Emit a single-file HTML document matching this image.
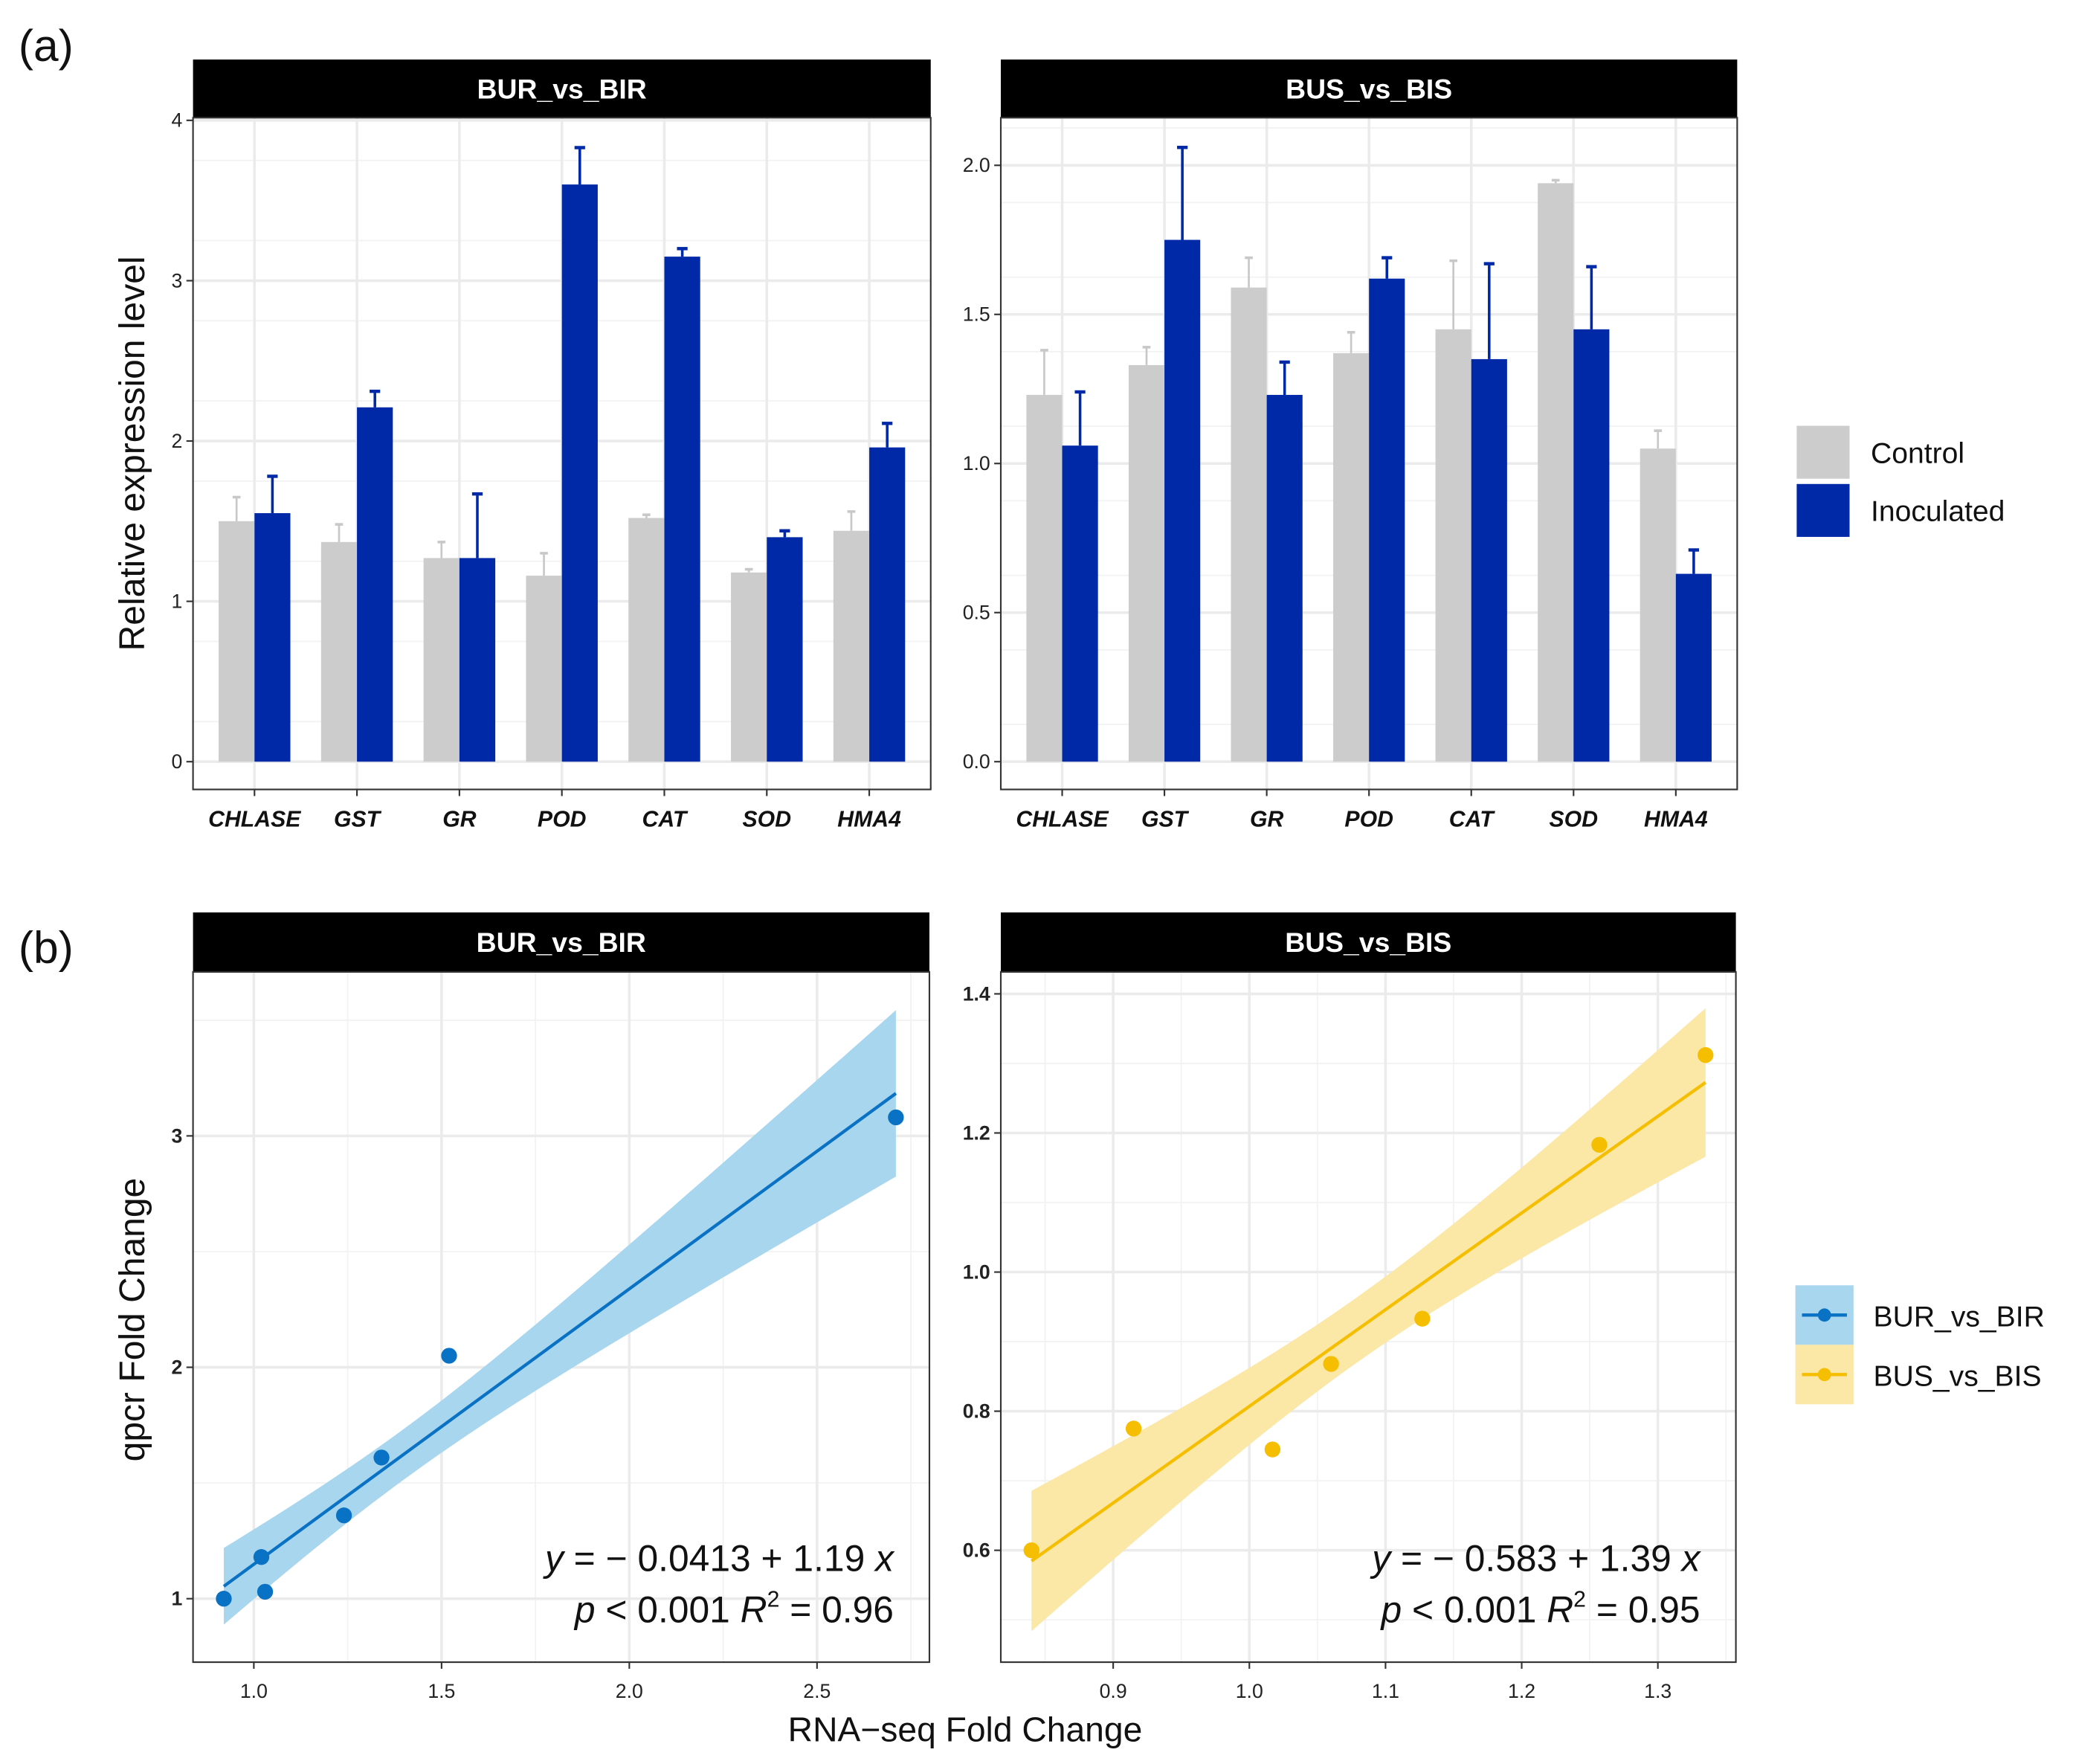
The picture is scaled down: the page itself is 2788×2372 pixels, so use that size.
<!DOCTYPE html>
<html><head><meta charset="utf-8"><style>
html,body{margin:0;padding:0;background:#fff}
svg{display:block}
text{font-family:"Liberation Sans",sans-serif}
</style></head><body>
<svg id="fig" width="2788" height="2372" viewBox="0 0 1568 1334" xmlns="http://www.w3.org/2000/svg">
<rect width="1568" height="1334" fill="#fff"/>
<g id="root"></g>
</svg>
<script>
const genes = ["CHLASE","GST","GR","POD","CAT","SOD","HMA4"];
const burControl = [1.50,1.37,1.27,1.16,1.52,1.18,1.44];
const burControlErr = [1.65,1.48,1.37,1.30,1.54,1.20,1.56];
const burInoc = [1.55,2.21,1.27,3.60,3.15,1.40,1.96];
const burInocErr = [1.78,2.31,1.67,3.83,3.20,1.44,2.11];
const busControl = [1.23,1.33,1.59,1.37,1.45,1.94,1.05];
const busControlErr = [1.38,1.39,1.69,1.44,1.68,1.95,1.11];
const busInoc = [1.06,1.75,1.23,1.62,1.35,1.45,0.63];
const busInocErr = [1.24,2.06,1.34,1.69,1.67,1.66,0.71];
const burTicks = [0,1,2,3,4];
const busTicks = [0,0.5,1.0,1.5,2.0];
const burX = [0.92,1.02,1.03,1.24,1.34,1.52,2.71];
const burY = [1.00,1.18,1.03,1.36,1.61,2.05,3.08];
const busX = [0.84,0.915,1.017,1.06,1.127,1.257,1.335];
const busY = [0.60,0.775,0.745,0.868,0.933,1.183,1.312];
const burFit = [-0.0413,1.19];
const busFit = [-0.583,1.39];
const burXTicks = [1.0,1.5,2.0,2.5];
const burYTicks = [1,2,3];
const busXTicks = [0.9,1.0,1.1,1.2,1.3];
const busYTicks = [0.6,0.8,1.0,1.2,1.4];

const NS="http://www.w3.org/2000/svg";
const root=document.getElementById('root');
function el(tag,attrs,parent,txt){const e=document.createElementNS(NS,tag);for(const k in attrs)e.setAttribute(k,attrs[k]);if(txt!==undefined)e.textContent=txt;(parent||root).appendChild(e);return e;}

function panelFrame(x0,x1,sy,py0,py1,title,name){
  const g=el('g',{});
  
  
  const s=el('rect',{x:x0,y:sy,width:x1-x0,height:py0-sy,fill:'#000'},g);
  
  
  const t=el('text',{x:(x0+x1)/2,y:(sy+py0)/2+7.5,'text-anchor':'middle',fill:'#fff','font-size':21,'font-weight':'bold'},g,title);
  
  
  return g;
}
function border(g,x0,x1,y0,y1){el('rect',{x:x0,y:y0,width:x1-x0,height:y1-y0,fill:'none',stroke:'#333','stroke-width':1.2},g);}

function barPanel(x0,x1,ticks,vmax,ctrl,ctrlE,inoc,inocE,title,name,tickFmt,minorStep){
  const sy=45,py0=89,py1=597,y0px=576;
  const ytop = name.includes('bur')?91:125;
  const scale=(y0px-ytop)/vmax;
  const Y=v=>y0px-v*scale;
  const g=panelFrame(x0,x1,sy,py0,py1,title,name);
  const n=genes.length, step=(x1-x0)/(n+0.2);
  const X=i=>x0+step*(i+0.6);
  for(let v=minorStep/2; v<vmax+minorStep; v+=minorStep){ if(Y(v)>py0) el('line',{x1:x0,x2:x1,y1:Y(v),y2:Y(v),stroke:'#f2f2f2','stroke-width':1},g);}
  ticks.forEach(v=>el('line',{x1:x0,x2:x1,y1:Y(v),y2:Y(v),stroke:'#ebebeb','stroke-width':2},g));
  genes.forEach((gname,i)=>el('line',{x1:X(i),x2:X(i),y1:py0,y2:py1,stroke:'#ebebeb','stroke-width':2},g));
  const bw=step*0.35;
  genes.forEach((gname,i)=>{
    const cx=X(i);
    const c=el('rect',{x:cx-bw,y:Y(ctrl[i]),width:bw,height:Y(0)-Y(ctrl[i]),fill:'#cccccc'},g);
    
    
    el('line',{x1:cx-bw/2,x2:cx-bw/2,y1:Y(ctrl[i]),y2:Y(ctrlE[i]),stroke:'#c8c8c8','stroke-width':1.5},g);
    el('line',{x1:cx-bw/2-3,x2:cx-bw/2+3,y1:Y(ctrlE[i]),y2:Y(ctrlE[i]),stroke:'#c8c8c8','stroke-width':2},g);
    const b=el('rect',{x:cx,y:Y(inoc[i]),width:bw,height:Y(0)-Y(inoc[i]),fill:'#0029a8'},g);
    
    
    el('line',{x1:cx+bw/2,x2:cx+bw/2,y1:Y(inoc[i]),y2:Y(inocE[i]),stroke:'#0029a8','stroke-width':2},g);
    el('line',{x1:cx+bw/2-4,x2:cx+bw/2+4,y1:Y(inocE[i]),y2:Y(inocE[i]),stroke:'#0029a8','stroke-width':2.5},g);
    el('line',{x1:cx,x2:cx,y1:py1,y2:py1+5,stroke:'#333','stroke-width':1.2},g);
    const l=el('text',{x:cx,y:py1+28,'text-anchor':'middle','font-size':17,'font-weight':'bold','font-style':'italic',fill:'#111'},g,gname);
    
    
  });
  ticks.forEach(v=>{
    el('line',{x1:x0-5,x2:x0,y1:Y(v),y2:Y(v),stroke:'#333','stroke-width':1.2},g);
    const t=el('text',{x:x0-8,y:Y(v)+5,'text-anchor':'end','font-size':15,fill:'#222'},g,tickFmt(v));
    
    
  });
  border(g,x0,x1,py0,py1);
}
barPanel(146,704,burTicks,4,burControl,burControlErr,burInoc,burInocErr,'BUR_vs_BIR','bar-panel-bur',v=>String(v),0.5);
barPanel(757,1314,busTicks,2.0,busControl,busControlErr,busInoc,busInocErr,'BUS_vs_BIS','bar-panel-bus',v=>v.toFixed(1),0.25);

function scatterPanel(cfg){
  const {x0,x1,xs,ys,fit,xt,yt,xref,yref,title,name,col,band,bandA,bandB,eq1,eq2,fmtY,fmtX}=cfg;
  const sy=690,py0=735,py1=1257;
  const X=v=>xref[0]+(v-xref[1])*xref[2];
  const Y=v=>yref[0]-(v-yref[1])*yref[2];
  const g=panelFrame(x0,x1,sy,py0,py1,title,name);
  const xstep=xt[1]-xt[0], ystep=yt[1]-yt[0];
  for(let v=xt[0]-xstep*1.5; v<xt[xt.length-1]+xstep*2; v+=xstep){const p=X(v); if(p>x0&&p<x1) el('line',{x1:p,x2:p,y1:py0,y2:py1,stroke:'#f2f2f2','stroke-width':1},g);}
  for(let v=yt[0]-ystep*1.5; v<yt[yt.length-1]+ystep*2; v+=ystep){const p=Y(v); if(p>py0&&p<py1) el('line',{x1:x0,x2:x1,y1:p,y2:p,stroke:'#f2f2f2','stroke-width':1},g);}
  xt.forEach(v=>el('line',{x1:X(v),x2:X(v),y1:py0,y2:py1,stroke:'#ebebeb','stroke-width':2},g));
  yt.forEach(v=>el('line',{x1:x0,x2:x1,y1:Y(v),y2:Y(v),stroke:'#ebebeb','stroke-width':2},g));
  const xmin=Math.min(...xs),xmax=Math.max(...xs),xm=xs.reduce((a,b)=>a+b,0)/xs.length;
  const N=60, up=[],lo=[];
  for(let k=0;k<=N;k++){const x=xmin+(xmax-xmin)*k/N;const yh=fit[0]+fit[1]*x;const hw=Math.sqrt(bandA+bandB*(x-xm)*(x-xm));up.push(X(x)+','+Y(yh+hw));lo.unshift(X(x)+','+Y(yh-hw));}
  const bd=el('polygon',{points:up.concat(lo).join(' '),fill:band},g);
  
  
  const ln=el('line',{x1:X(xmin),y1:Y(fit[0]+fit[1]*xmin),x2:X(xmax),y2:Y(fit[0]+fit[1]*xmax),stroke:col,'stroke-width':2.4},g);
  
  
  xs.forEach((x,i)=>{
    const c=el('circle',{cx:X(x),cy:Y(ys[i]),r:6,fill:col},g);
    
    
  });
  xt.forEach(v=>{
    el('line',{x1:X(v),x2:X(v),y1:py1,y2:py1+5,stroke:'#333','stroke-width':1.2},g);
    const t=el('text',{x:X(v),y:py1+27,'text-anchor':'middle','font-size':15,fill:'#222'},g,fmtX(v));
    
    
  });
  yt.forEach(v=>{
    el('line',{x1:x0-5,x2:x0,y1:Y(v),y2:Y(v),stroke:'#333','stroke-width':1.2},g);
    const t=el('text',{x:x0-8,y:Y(v)+5,'text-anchor':'end','font-size':15,'font-weight':'bold',fill:'#222'},g,fmtY(v));
    
    
  });
  const e1=el('text',{x:x1-27,y:1188,'text-anchor':'end','font-size':28,fill:'#111'},g);
  
  
  e1.innerHTML=eq1;
  const e2=el('text',{x:x1-27,y:1227,'text-anchor':'end','font-size':28,fill:'#111'},g);
  
  
  e2.innerHTML=eq2;
  border(g,x0,x1,py0,py1);
}
scatterPanel({x0:146,x1:703,xs:burX,ys:burY,fit:burFit,xt:burXTicks,yt:burYTicks,xref:[192,1.0,284],yref:[1209,1,175],title:'BUR_vs_BIR',name:'scatter-panel-bur',col:'#0a72c4',band:'#a8d6ee',bandA:0.012,bandB:0.068,
  eq1:'<tspan font-style="italic">y</tspan> = − 0.0413 + 1.19 <tspan font-style="italic">x</tspan>',
  eq2:'<tspan font-style="italic">p</tspan> &lt; 0.001  <tspan font-style="italic">R</tspan><tspan font-size="17" dy="-12">2</tspan><tspan dy="12"> = 0.96</tspan>',
  fmtY:v=>String(v),fmtX:v=>v.toFixed(1)});
scatterPanel({x0:757,x1:1313,xs:busX,ys:busY,fit:busFit,xt:busXTicks,yt:busYTicks,xref:[945,1.0,1030],yref:[962,1.0,526],title:'BUS_vs_BIS',name:'scatter-panel-bus',col:'#f5be00',band:'#fbe7a6',bandA:0.0022,bandB:0.14,
  eq1:'<tspan font-style="italic">y</tspan> = − 0.583 + 1.39 <tspan font-style="italic">x</tspan>',
  eq2:'<tspan font-style="italic">p</tspan> &lt; 0.001  <tspan font-style="italic">R</tspan><tspan font-size="17" dy="-12">2</tspan><tspan dy="12"> = 0.95</tspan>',
  fmtY:v=>v.toFixed(1),fmtX:v=>v.toFixed(1)});

function txt(attrs,s,name){const t=el('text',attrs,root,s);return t;}
txt({x:14,y:46,'font-size':34,fill:'#111'},'(a)','panel-a-label');
txt({x:14,y:728,'font-size':34,fill:'#111'},'(b)','panel-b-label');
txt({x:109,y:343,'text-anchor':'middle','font-size':27,fill:'#111',transform:'rotate(-90 109 343)'},'Relative expression level','y-axis-title-a');
txt({x:109,y:998,'text-anchor':'middle','font-size':27,fill:'#111',transform:'rotate(-90 109 998)'},'qpcr Fold Change','y-axis-title-b');
txt({x:730,y:1317,'text-anchor':'middle','font-size':26,fill:'#111'},'RNA−seq Fold Change','x-axis-title');

function legItem(name,x,y,w,h,fill,label,tx,ty,line){
  const g=el('g',{});
  
  
  el('rect',{x:x,y:y,width:w,height:h,fill:fill},g);
  if(line){el('line',{x1:x+5,x2:x+w-5,y1:y+h/2,y2:y+h/2,stroke:line,'stroke-width':2.5},g);el('circle',{cx:x+w/2,cy:y+h/2,r:5,fill:line},g);}
  el('text',{x:tx,y:ty,'font-size':22,fill:'#111'},g,label);
}
legItem('legend-control',1359,322,40,40,'#cccccc','Control',1415,350);
legItem('legend-inoculated',1359,366,40,40,'#0029a8','Inoculated',1415,394);
legItem('legend-bur-vs-bir',1358,972,44,45,'#a8d6ee','BUR_vs_BIR',1417,1003,'#0a72c4');
legItem('legend-bus-vs-bis',1358,1017,44,45,'#fbe7a6','BUS_vs_BIS',1417,1048,'#f5be00');
</script>
</body></html>
